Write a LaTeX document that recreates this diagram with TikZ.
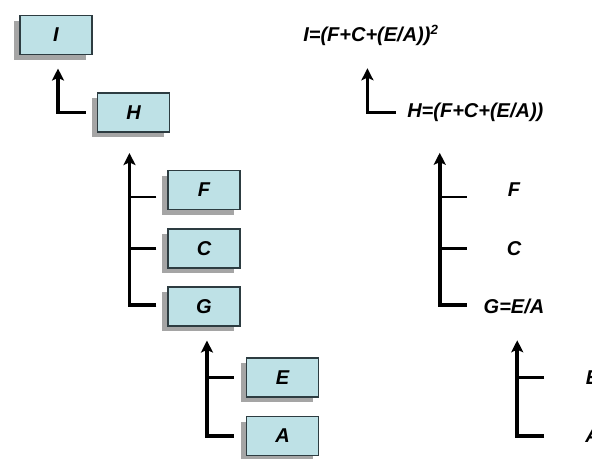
\documentclass[tikz,border=0pt]{standalone}
\usepackage{fontspec}
\setmainfont{Liberation Sans}
\usepackage{xcolor}
\definecolor{cboxfill}{RGB}{190, 225, 230}
\definecolor{cboxline}{RGB}{45, 60, 65}
\definecolor{cshadow}{RGB}{165, 165, 165}
\usetikzlibrary{calc,shadows,arrows.meta}

\begin{document}
\begin{tikzpicture}[
    x=0.75pt, y=-0.75pt,
    every node/.style={font=\fontsize{15}{18}\selectfont\bfseries\itshape, inner sep=0pt},
    letterbox/.style={
      draw=cboxline,
      line width=0.8pt,
      fill=cboxfill,
      minimum width=54pt,
      minimum height=29.25pt,
      drop shadow={shadow xshift=-4.5pt, shadow yshift=-4pt, fill=cshadow, opacity=1}
    },
    formula/.style={minimum width=54pt, minimum height=29.25pt},
    trunk/.style={line width=2.8pt},
    branch/.style={line width=2.2pt},
    up/.style={-{Stealth[length=9pt, width=9pt, inset=2pt]}}
  ]
  \useasboundingbox (0,0) rectangle (592,458);

  % the tree as boxes
  \node[letterbox] (lI) at (56,35) {I};
  \node[letterbox] (lH) at (133.5,112.5) {H};
  \node[letterbox] (lF) at (204,190) {F};
  \node[letterbox] (lC) at (204,248.5) {C};
  \node[letterbox] (lG) at (204,306.5) {G};
  \node[letterbox] (lE) at (282.5,377.5) {E};
  \node[letterbox] (lA) at (282.5,436) {A};

  % the same tree as formulas
  \node[formula, anchor=west] (rI) at (303,35) {I=(F+C+(E/A))\textsuperscript{\fontsize{10}{10}\selectfont 2}};
  \node[formula, anchor=west] (rH) at (407,112.5) {H=(F+C+(E/A))};
  \node[formula] (rF) at (514,190) {F};
  \node[formula] (rC) at (514,248.5) {C};
  \node[formula] (rG) at (514,306.5) {G=E/A};
  \node[formula] (rE) at (592.5,377.5) {E};
  \node[formula] (rA) at (592.5,436) {A};

  % connectors, alike on both sides
  \foreach \s/\dx in {l/2, r/-3.5} {
    \draw[trunk,up] ($(\s H.west)+(-11,0)$) -| ($(\s I.south)+(\dx,13.5)$);
    \draw[trunk,up] ($(\s G.west)+(-11,-1.5)$) -| ($(\s G.west |- \s H.south)+(-38,20.5)$);
    \foreach \n/\dy in {F/7, C/0}
      \draw[branch] ($(\s\n.west)+(-11,\dy)$) -- ++(-27,0);
    \draw[trunk,up] ($(\s A.west)+(-12,0)$) -| ($(\s E.west |- \s G.south)+(-39,14)$);
    \draw[branch] ($(\s E.west)+(-12,0)$) -- ++(-27,0);
  }
\end{tikzpicture}
\end{document}
